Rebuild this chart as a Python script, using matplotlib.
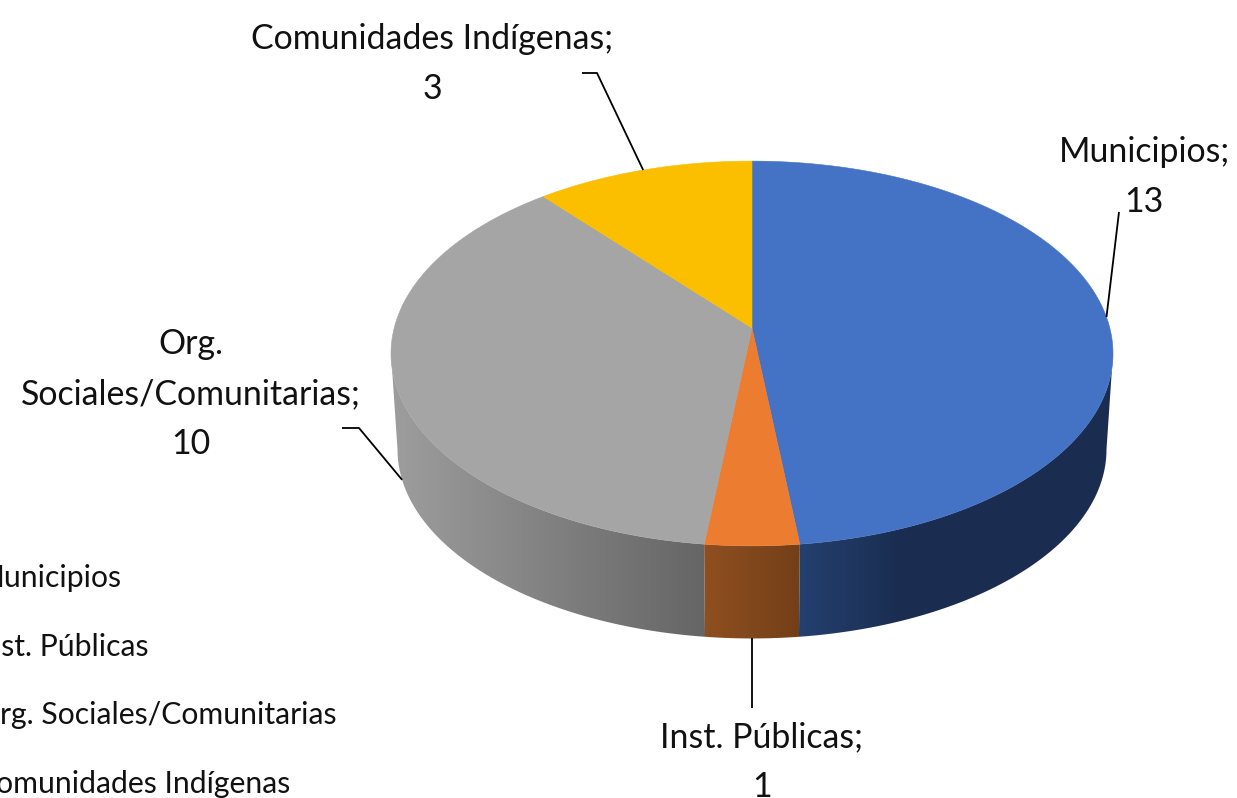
import numpy as np
import matplotlib
matplotlib.use("Agg")
import matplotlib.pyplot as plt
from matplotlib.patches import Polygon
from matplotlib.colors import to_rgb

categories = ["Municipios", "Inst. Públicas", "Org. Sociales/Comunitarias", "Comunidades Indígenas"]
values = [13, 1, 10, 3]
colors = ["#4472C4", "#EC7C30", "#A5A5A5", "#FBBF00"]
side_left = ["#24406F", "#8F4F20", "#9C9C9C", "#997300"]
side_right = ["#1A2D50", "#733F18", "#656565", "#997300"]
label_texts = ["Municipios;\n13", "Inst. Públicas;\n1", "Org.\nSociales/Comunitarias;\n10", "Comunidades Indígenas;\n3"]

plt.rcParams["font.family"] = ["Lato", "DejaVu Sans"]
FS_LABEL = 24.4
FS_LEG = 21.7

CX, CY, RX, RY, K = 752.0, 328.0, 357.8, 189.0, 0.1325
DROP_CY, SCALE = 424.5, 0.982


def project(theta, cy=CY, s=1.0):
    u, v = np.sin(theta), np.cos(theta)
    w = 1 + K * v
    return CX + s * RX * u / w, cy - s * RY * v / w


fig = plt.figure(figsize=(12.37, 7.98), dpi=100)
ax = fig.add_axes([0, 0, 1, 1])
ax.axis("off")

edges = np.radians(np.concatenate([[0], np.cumsum(values)]) / sum(values) * 360)
mids = (edges[:-1] + edges[1:]) / 2

# side walls: only the front of the disc is visible
th_r, th_l = np.arccos(-K), 2 * np.pi - np.arccos(-K)
grad_span = [(800, 900), (705, 800), (400, 705), (545, 750)]
for i in range(len(values)):
    lo, hi = max(edges[i], th_r), min(edges[i + 1], th_l)
    if lo >= hi:
        continue
    th = np.linspace(lo, hi, 300)
    xt, yt = project(th)
    xb, yb = project(th, DROP_CY, SCALE)
    verts = np.column_stack([np.r_[xt, xb[::-1]], np.r_[yt, yb[::-1]]])
    outline = Polygon(verts, closed=True, facecolor="none", edgecolor="none", transform=ax.transData)
    ax.add_patch(outline)
    c0, c1 = np.array(to_rgb(side_left[i])), np.array(to_rgb(side_right[i]))
    a, b = grad_span[i]
    x_min, x_max = verts[:, 0].min() - 2, verts[:, 0].max() + 2
    span = np.linspace(x_min, x_max, 512)
    t = np.clip((span - a) / (b - a), 0, 1)[None, :, None]
    img = c0[None, None, :] + (c1 - c0)[None, None, :] * t
    im = ax.imshow(img, extent=(x_min, x_max, verts[:, 1].max() + 2, verts[:, 1].min() - 2),
                   aspect="auto", interpolation="bilinear", zorder=2)
    im.set_clip_path(outline)

ax.set_xlim(0, 1237)
ax.set_ylim(798, 0)

# top faces
for i in range(len(values)):
    th = np.linspace(edges[i], edges[i + 1], 300)
    xt, yt = project(th)
    verts = np.column_stack([np.r_[CX, xt], np.r_[CY, yt]])
    ax.add_patch(Polygon(verts, closed=True, facecolor=colors[i], edgecolor=colors[i], linewidth=0.4, zorder=3))

# leader lines start on the slice they name
on_bottom = [False, True, True, False]
elbows = [[(1119, 212)], [(752, 708)], [(359, 428), (342, 428)], [(597, 73), (582, 73)]]
for i in range(len(values)):
    x0, y0 = project(mids[i], DROP_CY, SCALE) if on_bottom[i] else project(mids[i])
    pts = [(x0, y0)] + elbows[i]
    ax.plot([p[0] for p in pts], [p[1] for p in pts], color="black", lw=1.3, zorder=4, solid_capstyle="butt")

# data labels
label_pos = [(1144, 177), (762, 762), (191, 394), (432, 64)]
for t, (x, y) in zip(label_texts, label_pos):
    ax.text(x, y, t, ha="center", va="center", fontsize=FS_LABEL, color="#111111", linespacing=1.68, zorder=5)

# legend, cut off by the left border as in the source
legend_y = [578, 647, 715, 784]
for name, y in zip(categories, legend_y):
    ax.text(-24, y, name, ha="left", va="center", fontsize=FS_LEG, color="#111111", clip_on=False)

fig.savefig("out.png", dpi=100)
